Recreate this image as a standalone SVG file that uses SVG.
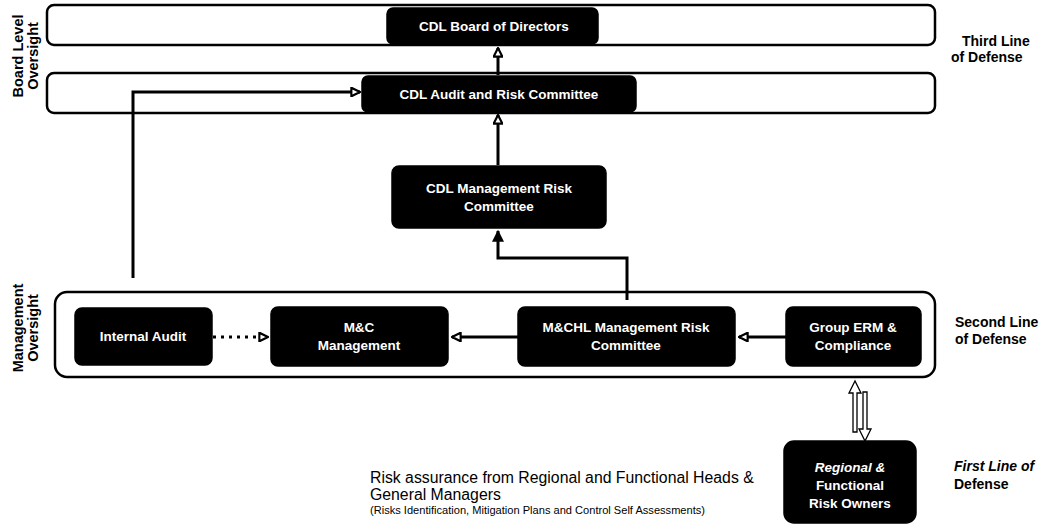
<svg xmlns="http://www.w3.org/2000/svg" width="1047" height="529" viewBox="0 0 1047 529">
<style>
.band{fill:#fff;stroke:#000;stroke-width:2.5}
.box{fill:#000;stroke:#000;stroke-width:1.5}
.t{font-family:"Liberation Sans",Arial,sans-serif;font-weight:bold;font-size:13.5px;fill:#fff;text-anchor:middle}
.lbl{font-family:"Liberation Sans",Arial,sans-serif;font-weight:bold;font-size:14px;fill:#000}
.side{font-family:"Liberation Sans",Arial,sans-serif;font-weight:bold;font-size:14.5px;fill:#000;text-anchor:middle}
.c{fill:none;stroke:#000;stroke-width:3}
.note{font-family:"Liberation Sans",Arial,sans-serif;font-size:15.8px;fill:#000}
.small{font-family:"Liberation Sans",Arial,sans-serif;font-size:10.5px;fill:#000}
</style>
<defs>
<marker id="open" viewBox="0 0 10 10" refX="9" refY="5" markerWidth="3.6" markerHeight="3.6" orient="auto" markerUnits="strokeWidth">
<path d="M1,1 L9,5 L1,9 Z" fill="#fff" stroke="#000" stroke-width="2"/>
</marker>
<marker id="filled" viewBox="0 0 10 10" refX="9" refY="5" markerWidth="4" markerHeight="4" orient="auto" markerUnits="strokeWidth">
<path d="M0,0 L10,5 L0,10 Z" fill="#000"/>
</marker>
</defs>

<g id="bands">
<rect class="band" x="47" y="5" width="888" height="40" rx="7"/>
<rect class="band" x="47" y="73" width="888" height="40" rx="7"/>
<rect class="band" x="55" y="292" width="880" height="85" rx="12"/>
</g>

<g id="connectors">
<path class="c" d="M498,75 L498,48" marker-end="url(#open)"/>
<path class="c" d="M498,165 L498,115" marker-end="url(#open)"/>
<path class="c" d="M133,278 L133,92 L360,92" marker-end="url(#open)"/>
<path class="c" d="M627,300 L627,258 L498,258 L498,231" marker-end="url(#filled)"/>
<path class="c" d="M213,337 L268,337" stroke-dasharray="3,5" marker-end="url(#open)"/>
<path class="c" d="M518,337 L452,337" marker-end="url(#open)"/>
<path class="c" d="M786,337 L739,337" marker-end="url(#open)"/>
<path d="M853,432 L853,393 L849,393 L855,381 L861,393 L857,393 L857,432 Z" fill="#fff" stroke="#000" stroke-width="1.3"/>
<path d="M863,392 L863,429 L859,429 L865,441 L871,429 L867,429 L867,392 Z" fill="#fff" stroke="#000" stroke-width="1.3"/>
</g>

<g id="board">
<rect class="box" x="387" y="8" width="211" height="36" rx="6"/>
<text class="t" x="494" y="31">CDL Board of Directors</text>
</g>
<g id="arc">
<rect class="box" x="362" y="76" width="274" height="36" rx="6"/>
<text class="t" x="499" y="99">CDL Audit and Risk Committee</text>
</g>
<g id="cdlmrc">
<rect class="box" x="392" y="166" width="214" height="62" rx="7"/>
<text class="t" x="499" y="193">CDL Management Risk</text>
<text class="t" x="499" y="211">Committee</text>
</g>
<g id="ia">
<rect class="box" x="75" y="308" width="137" height="57" rx="7"/>
<text class="t" x="143" y="341">Internal Audit</text>
</g>
<g id="mc">
<rect class="box" x="271" y="307" width="177" height="59" rx="7"/>
<text class="t" x="359" y="332">M&amp;C</text>
<text class="t" x="359" y="350">Management</text>
</g>
<g id="mchl">
<rect class="box" x="518" y="307" width="217" height="59" rx="7"/>
<text class="t" x="626" y="332">M&amp;CHL Management Risk</text>
<text class="t" x="626" y="350">Committee</text>
</g>
<g id="erm">
<rect class="box" x="786" y="307" width="135" height="59" rx="7"/>
<text class="t" x="853" y="332">Group ERM &amp;</text>
<text class="t" x="853" y="350">Compliance</text>
</g>
<g id="rfro">
<rect class="box" x="784" y="441" width="132" height="82" rx="10"/>
<text class="t" x="850" y="472" font-style="italic">Regional &amp;</text>
<text class="t" x="850" y="490">Functional</text>
<text class="t" x="850" y="508">Risk Owners</text>
</g>

<g id="labels">
<text class="side" transform="translate(23,56) rotate(-90)">Board Level</text>
<text class="side" transform="translate(38,56) rotate(-90)">Oversight</text>
<text class="side" transform="translate(23,328) rotate(-90)">Management</text>
<text class="side" transform="translate(38,328) rotate(-90)">Oversight</text>
<text class="lbl" x="962" y="46">Third Line</text>
<text class="lbl" x="951" y="62">of Defense</text>
<text class="lbl" x="955" y="327">Second Line</text>
<text class="lbl" x="955" y="344">of Defense</text>
<text class="lbl" x="954" y="471" font-style="italic">First Line of</text>
<text class="lbl" x="954" y="489">Defense</text>
<text class="note" x="370" y="483">Risk assurance from Regional and Functional Heads &amp;</text>
<text class="note" x="370" y="500">General Managers</text>
<text class="small" x="370" y="514" textLength="335" lengthAdjust="spacingAndGlyphs">(Risks Identification, Mitigation Plans and Control Self Assessments)</text>
</g>
</svg>
